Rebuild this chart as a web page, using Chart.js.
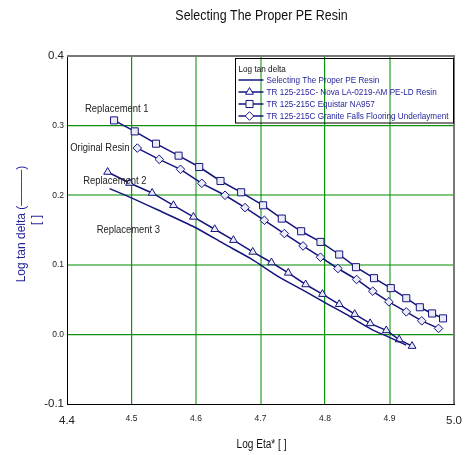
<!DOCTYPE html>
<html>
<head>
<meta charset="utf-8">
<script src="https://cdn.jsdelivr.net/npm/chart.js@4.4.0/dist/chart.umd.min.js"></script>
<style>
html,body{margin:0;padding:0;background:#fff;}
#wrap{width:472px;height:455px;}
</style>
</head>
<body>
<div id="wrap"><canvas id="c" width="472" height="455"></canvas></div>
<script>
// ---------- text ----------
const chartTitle = 'Selecting The Proper PE Resin';
const xAxisTitle = 'Log Eta* [ ]';
const yAxisTitle = ['Log tan delta (\u2014\u2014\u2014)', '[ ]'];
const legendTitle = 'Log tan delta';
const seriesNames = [
  'Selecting The Proper PE Resin',
  'TR 125-215C- Nova LA-0219-AM PE-LD Resin',
  'TR 125-215C Equistar NA957',
  'TR 125-215C Granite Falls Flooring Underlayment'
];

// ---------- ticks ----------
const xTicks = [4.4, 4.5, 4.6, 4.7, 4.8, 4.9, 5.0];
const xTickLabels = ['4.4', '4.5', '4.6', '4.7', '4.8', '4.9', '5.0'];
const yTicks = [-0.1, 0.0, 0.1, 0.2, 0.3, 0.4];
const yTickLabels = ['-0.1', '0.0', '0.1', '0.2', '0.3', '0.4'];

// ---------- series values ----------
const resinX = [4.466, 4.499, 4.542, 4.598, 4.643, 4.685, 4.729, 4.770, 4.800, 4.831, 4.858, 4.876, 4.894, 4.911, 4.926];
const resinY = [0.2095, 0.1966, 0.1783, 0.1539, 0.1303, 0.1088, 0.0822, 0.0614, 0.0456, 0.0298, 0.0148, 0.0055, -0.0017, -0.0089, -0.0154];

const novaX = [4.463, 4.497, 4.532, 4.565, 4.596, 4.629, 4.658, 4.688, 4.717, 4.743, 4.770, 4.796, 4.822, 4.846, 4.870, 4.895, 4.915, 4.935];
const novaY = [0.2333, 0.2175, 0.2032, 0.1855, 0.1688, 0.1511, 0.1354, 0.1185, 0.1033, 0.0884, 0.0717, 0.0578, 0.0433, 0.0291, 0.0158, 0.0057, -0.0074, -0.0168];

const equistarX = [4.473, 4.505, 4.538, 4.573, 4.605, 4.638, 4.670, 4.704, 4.733, 4.763, 4.793, 4.822, 4.848, 4.876, 4.902, 4.926, 4.947, 4.966, 4.983];
const equistarY = [0.3075, 0.2917, 0.2740, 0.2568, 0.2405, 0.2204, 0.2042, 0.1855, 0.1664, 0.1482, 0.1329, 0.1148, 0.0966, 0.0808, 0.0665, 0.0520, 0.0390, 0.0301, 0.0230];

const graniteX = [4.509, 4.543, 4.576, 4.609, 4.645, 4.676, 4.706, 4.737, 4.766, 4.793, 4.820, 4.849, 4.874, 4.899, 4.926, 4.950, 4.976];
const graniteY = [0.2677, 0.2515, 0.2372, 0.2171, 0.1999, 0.1822, 0.1640, 0.1449, 0.1271, 0.1109, 0.0947, 0.0789, 0.0621, 0.0468, 0.0324, 0.0195, 0.0086];

// ---------- in-plot notes (anchored in data units) ----------
const noteTexts = ['Replacement 1', 'Original Resin', 'Replacement 2', 'Replacement 3'];
const noteX = [4.428, 4.405, 4.425, 4.446];
const noteY = [0.324, 0.268, 0.220, 0.150];

// ---------- styles ----------
const FONT = '"Liberation Sans", Arial, Helvetica, sans-serif';
const LINE = '#14147f';
const BLUE_TEXT = '#1f1f9a';
const GRID_DARK = '#109010';
const GRID_LIGHT = 'rgba(0,140,0,0.5)';
const gridColors = ['rgba(0,0,0,0)', GRID_DARK, GRID_LIGHT, GRID_LIGHT, GRID_DARK, GRID_LIGHT, 'rgba(0,0,0,0)'];
const gridWidths = [1, 1.2, 2, 2, 1.2, 2, 1];

Chart.defaults.font.family = FONT;

const pairs = (xs, ys) => xs.map((x, i) => ({x: x, y: ys[i]}));

function squeezeText(ctx, text, x, y, size, sx, color, align) {
  ctx.save();
  ctx.font = size + 'px ' + FONT;
  ctx.fillStyle = color;
  ctx.textBaseline = 'middle';
  ctx.textAlign = 'left';
  const w = ctx.measureText(text).width * sx;
  const x0 = align === 'center' ? x - w / 2 : (align === 'right' ? x - w : x);
  ctx.translate(x0, y);
  ctx.scale(sx, 1);
  ctx.fillText(text, 0, 0);
  ctx.restore();
}

const decor = {
  id: 'decor',
  afterDatasetsDraw(chart) {
    const ctx = chart.ctx;
    const a = chart.chartArea;
    const xs = chart.scales.x, ys = chart.scales.y;

    // grey frame on top and right
    ctx.save();
    ctx.strokeStyle = '#787878';
    ctx.lineWidth = 2;
    ctx.beginPath();
    ctx.moveTo(a.left, a.top);
    ctx.lineTo(a.right, a.top);
    ctx.lineTo(a.right, a.bottom);
    ctx.stroke();
    ctx.restore();

    // title
    squeezeText(ctx, chartTitle, (a.left + a.right) / 2 + 1, 15.5, 15, 0.83, '#111', 'center');
    // x axis title
    squeezeText(ctx, xAxisTitle, (a.left + a.right) / 2 + 1, 445, 12, 0.84, '#111', 'center');
    // y axis title (rotated, two lines)
    ctx.save();
    ctx.translate(21.7, (a.top + a.bottom) / 2 - 6);
    ctx.rotate(-Math.PI / 2);
    squeezeText(ctx, yAxisTitle[0], 0, 0, 12, 1, BLUE_TEXT, 'center');
    squeezeText(ctx, yAxisTitle[1], 4, 15, 12, 1, BLUE_TEXT, 'center');
    ctx.restore();

    // notes
    noteTexts.forEach((t, i) => {
      squeezeText(ctx, t, xs.getPixelForValue(noteX[i]), ys.getPixelForValue(noteY[i]), 11.5, 0.82, '#222', 'left');
    });

    // legend box
    const bx = a.right - 218.5, by = a.top + 2.5, bw = 218, bh = 64.5;
    ctx.save();
    ctx.strokeStyle = '#000';
    ctx.lineWidth = 1;
    ctx.strokeRect(bx, by, bw, bh);
    ctx.restore();
    squeezeText(ctx, legendTitle, bx + 3, by + 10.5, 9.3, 0.88, '#111', 'left');
    chart.data.datasets.forEach((ds, i) => {
      const yy = by + 21.5 + i * 12;
      ctx.save();
      ctx.strokeStyle = ds.borderColor;
      ctx.lineWidth = 1.5;
      ctx.beginPath();
      ctx.moveTo(bx + 3, yy);
      ctx.lineTo(bx + 28, yy);
      ctx.stroke();
      if (ds.pointRadius > 0) {
        ctx.fillStyle = '#ffffff';
        ctx.strokeStyle = ds.pointBorderColor;
        ctx.lineWidth = 1;
        Chart.helpers.drawPoint(ctx, {pointStyle: ds.pointStyle, radius: ds.pointRadius, rotation: 0, borderWidth: 1}, bx + 14, yy);
      }
      ctx.restore();
      squeezeText(ctx, ds.label, bx + 31, yy, 9.3, 0.876, BLUE_TEXT, 'left');
    });
  }
};

const mk = (label, data, style, radius, tension) => ({
  label: label,
  data: data,
  borderColor: LINE,
  borderWidth: 1.5,
  pointStyle: style,
  pointRadius: radius,
  pointHoverRadius: radius,
  pointBorderColor: LINE,
  pointBackgroundColor: 'rgba(235,235,248,1)',
  pointBorderWidth: 1,
  tension: tension,
  fill: false
});

new Chart(document.getElementById('c'), {
  type: 'line',
  data: {
    datasets: [
      mk(seriesNames[0], pairs(resinX, resinY), 'circle', 0, 0.25),
      mk(seriesNames[1], pairs(novaX, novaY), 'triangle', 4.5, 0),
      mk(seriesNames[2], pairs(equistarX, equistarY), 'rect', 5, 0),
      mk(seriesNames[3], pairs(graniteX, graniteY), 'rectRot', 4.3, 0)
    ]
  },
  options: {
    responsive: false,
    animation: false,
    events: [],
    layout: {padding: {top: 56, right: 11, bottom: 0, left: 0}},
    plugins: {legend: {display: false}, title: {display: false}, tooltip: {enabled: false}},
    scales: {
      x: {
        type: 'linear',
        min: 4.4, max: 5.0,
        afterBuildTicks: s => { s.ticks = xTicks.map(v => ({value: v})); },
        afterFit: s => { s.height = 51; },
        ticks: {
          padding: 10,
          color: '#222',
          maxRotation: 0,
          autoSkip: false,
          callback: (v, i) => xTickLabels[i],
          font: c => ({size: (c.index === 0 || c.index === xTicks.length - 1) ? 11.5 : 8.5})
        },
        grid: {
          drawTicks: false,
          color: c => gridColors[c.index],
          lineWidth: c => gridWidths[c.index]
        },
        border: {color: '#000', width: 1}
      },
      y: {
        type: 'linear',
        min: -0.1, max: 0.4,
        afterBuildTicks: s => { s.ticks = yTicks.map(v => ({value: v})); },
        afterFit: s => { s.width = 67; },
        ticks: {
          padding: 3,
          color: '#222',
          autoSkip: false,
          callback: (v, i) => yTickLabels[i],
          font: c => ({size: (c.index === 0 || c.index === yTicks.length - 1) ? 11.5 : 8.5})
        },
        grid: {
          drawTicks: false,
          color: c => gridColors[c.index],
          lineWidth: c => gridWidths[c.index]
        },
        border: {color: '#000', width: 1}
      }
    }
  },
  plugins: [decor]
});
</script>
</body>
</html>
